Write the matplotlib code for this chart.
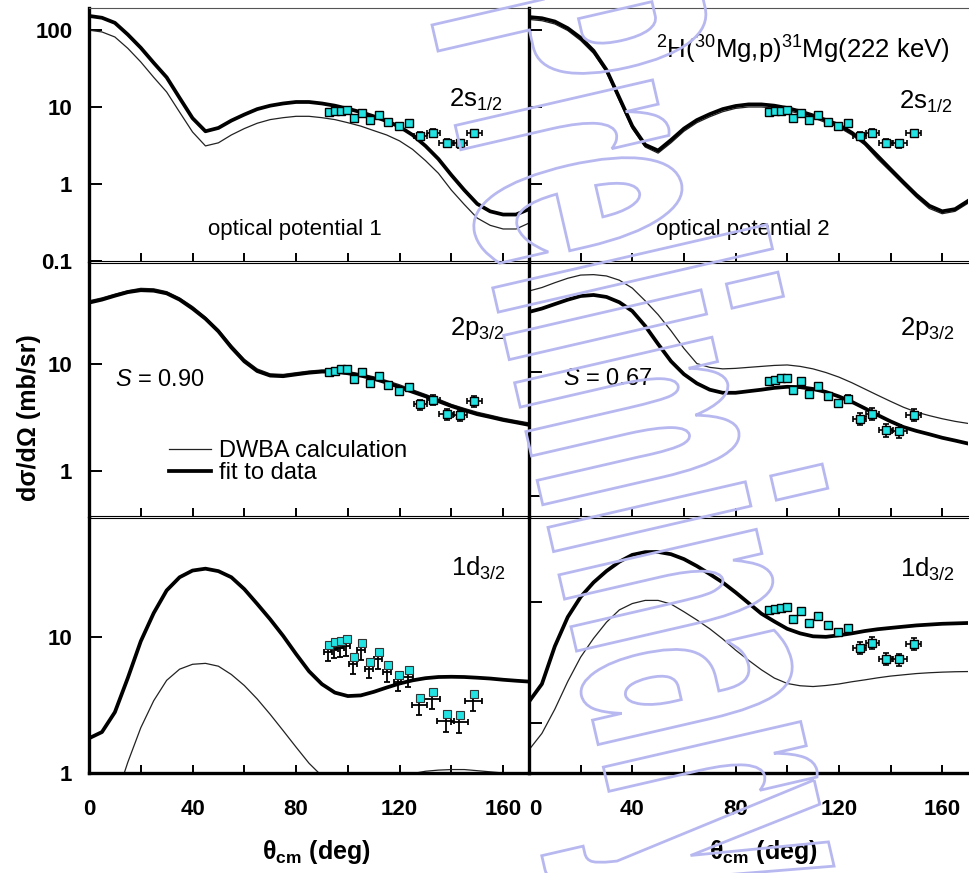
import matplotlib
matplotlib.use("Agg")
import matplotlib.pyplot as plt
from matplotlib.textpath import TextPath
from matplotlib.patches import PathPatch
from matplotlib.font_manager import FontProperties
from matplotlib.transforms import Affine2D, ScaledTranslation
from matplotlib.ticker import NullLocator

plt.rcParams["font.family"] = ["Liberation Sans", "DejaVu Sans"]
plt.rcParams["mathtext.fontset"] = "custom"
plt.rcParams["mathtext.rm"] = "Liberation Sans"
plt.rcParams["mathtext.it"] = "Liberation Sans:italic"
plt.rcParams["mathtext.bf"] = "Liberation Sans:bold"

W, H = 970, 873

# angle grid of the calculations (deg)
theta = [0, 5, 10, 15, 20, 25, 30, 35, 40, 45, 50, 55, 60, 65, 70, 75, 80, 85,
         90, 95, 100, 105, 110, 115, 120, 125, 130, 135, 140, 145, 150, 155,
         160, 165, 170]

# 2s1/2
s12_op1_dwba = [98, 93, 80, 57, 38, 24, 15.5, 8.5, 4.7, 3.1, 3.4, 4.3, 5.2, 6.1, 6.8, 7.2, 7.5, 7.5,
                7.2, 6.8, 6.2, 5.6, 4.9, 4.3, 3.6, 2.8, 2.0, 1.37, 0.83, 0.54, 0.36, 0.29,
                0.26, 0.26, 0.31]
s12_op1_fit = [150, 142, 122, 86, 58, 37, 24, 13, 7.1, 4.8, 5.3, 6.6, 7.9, 9.3, 10.3, 11.0, 11.5, 11.5,
               11.0, 10.3, 9.4, 8.5, 7.5, 6.5, 5.5, 4.3, 3.1, 2.1, 1.3, 0.83, 0.55, 0.44,
               0.40, 0.40, 0.47]
s12_op2_dwba = [135, 130, 118, 97, 72, 49, 28, 12, 5.2, 3.0, 2.5, 3.4, 4.8, 6.2, 7.4, 8.6, 9.5, 9.9,
                9.9, 9.6, 8.9, 8.1, 7.2, 6.2, 5.4, 4.3, 3.2, 2.1, 1.44, 0.98, 0.67, 0.48,
                0.41, 0.44, 0.56]
s12_op2_fit = [145, 140, 127, 104, 78, 53, 30, 13, 5.6, 3.2, 2.7, 3.7, 5.2, 6.7, 8.0, 9.3, 10.2, 10.7,
               10.7, 10.3, 9.6, 8.7, 7.7, 6.7, 5.8, 4.6, 3.4, 2.3, 1.55, 1.05, 0.72, 0.52,
               0.44, 0.47, 0.60]

# 2p3/2
p32_op1_dwba = [39, 41.5, 45, 48.5, 51, 50.5, 47.5, 41.5, 34.5, 27.5, 21, 15, 11.1, 9.0, 8.1, 8.0, 8.3, 8.6,
                8.8, 8.8, 8.5, 8.1, 7.6, 7.0, 6.4, 5.75, 5.2, 4.7, 4.2, 3.85, 3.55, 3.33,
                3.12, 2.96, 2.82]
p32_op1_fit = [37.5, 40, 43.5, 47, 49, 48.5, 45.8, 40, 33, 26.5, 20.2, 14.3, 10.6, 8.6, 7.8, 7.7, 8.0, 8.3,
               8.5, 8.5, 8.2, 7.8, 7.3, 6.7, 6.1, 5.5, 5.0, 4.5, 4.05, 3.7, 3.4, 3.2,
               3.0, 2.85, 2.7]
p32_op2_dwba = [45, 48, 52.5, 57, 60.5, 61, 59.5, 55, 47.5, 37.5, 29, 21.5, 15.5, 11.7, 10.9, 10.6, 10.7, 10.9,
                11.1, 11.3, 11.4, 11.1, 10.6, 9.9, 9.1, 8.2, 7.3, 6.5, 5.8, 5.2, 4.75, 4.45,
                4.2, 4.0, 3.85]
p32_op2_fit = [30.5, 32.5, 35.3, 38.3, 41, 41.8, 40.3, 36.5, 31, 23.5, 16.8, 12.2, 9.6, 8.1, 7.2, 6.8, 6.8, 7.0,
               7.2, 7.45, 7.6, 7.55, 7.3, 6.9, 6.35, 5.75, 5.1, 4.5, 4.0, 3.6, 3.35, 3.15,
               2.95, 2.8, 2.65]

# 1d3/2
d32_op1_dwba = [0.38, 0.45, 0.62, 1.2, 2.15, 3.4, 4.8, 5.8, 6.3, 6.4, 6.1, 5.3, 4.4, 3.5, 2.7, 2.05, 1.55, 1.18,
                0.95, 0.82, 0.76, 0.77, 0.81, 0.88, 0.94, 0.99, 1.03, 1.05, 1.06, 1.06, 1.04, 1.02,
                1.0, 0.98, 0.97]
d32_op1_fit = [1.8, 2.0, 2.8, 5.0, 9.3, 15, 22, 27.5, 30.8, 31.8, 30.5, 27.5, 22.5, 17.5, 13.5, 10.2, 7.5, 5.6,
               4.5, 3.9, 3.68, 3.72, 3.95, 4.25, 4.55, 4.8, 4.98, 5.08, 5.1, 5.08, 5.02, 4.95,
               4.85, 4.77, 4.7]
d32_op2_dwba = [0.6, 0.82, 1.3, 2.2, 3.5, 5.0, 6.8, 8.6, 9.7, 10.3, 10.3, 9.6, 8.3, 7.1, 6.0, 4.95, 4.0, 3.3,
                2.75, 2.35, 2.12, 2.03, 2.0, 2.04, 2.1, 2.19, 2.27, 2.36, 2.44, 2.5, 2.56, 2.6,
                2.63, 2.65, 2.66]
d32_op2_fit = [1.5, 2.1, 4.3, 7.5, 11, 14.5, 18, 21.5, 24.5, 25.8, 25.9, 24.8, 22.6, 19.8, 17, 14.5, 12, 9.8,
               8.0, 6.9, 6.0, 5.5, 5.2, 5.15, 5.3, 5.5, 5.75, 5.95, 6.1, 6.25, 6.4, 6.5,
               6.6, 6.65, 6.7]

# measured 2H(30Mg,p)31Mg(222 keV)
theta_exp = [92.8, 95.2, 97.5, 99.8, 102.4, 105.4, 108.6, 112.0, 115.6, 119.6, 123.7, 128.0,
             133.0, 138.2, 143.4, 148.9]
theta_exp_err = [0.8, 0.8, 0.8, 0.8, 0.8, 0.8, 0.8, 0.8, 1.0, 1.0, 1.2, 2.5, 2.5, 2.8, 2.8, 3.0]
sigma_exp = [8.5, 8.7, 8.9, 9.0, 7.2, 8.4, 6.7, 7.7, 6.4, 5.65, 6.1, 4.2, 4.6, 3.4, 3.35, 4.5]
sigma_exp_err = [0.45, 0.45, 0.45, 0.45, 0.4, 0.45, 0.4, 0.45, 0.4, 0.35, 0.4, 0.45, 0.5, 0.4, 0.4, 0.5]

# same points as they appear in the 1d3/2, potential 1 panel
sigma_d32_op1 = [8.75, 9.25, 9.4, 9.6, 7.1, 9.0, 6.6, 7.7, 6.2, 5.3, 5.75, 3.57, 3.95, 2.7, 2.65, 3.84]
sigma_d32_op1_err = [1.3, 1.4, 1.4, 1.4, 1.1, 1.4, 1.0, 1.2, 0.95, 0.8, 0.9, 0.55, 0.6, 0.45, 0.45, 0.6]
theta_d32_op1_err = [1.5, 1.5, 1.5, 1.5, 1.5, 1.5, 1.5, 1.5, 1.5, 1.5, 2.0, 3.0, 3.0, 3.3, 3.3, 3.3]

orbitals = ["2s$_{\\mathrm{1/2}}$", "2p$_{\\mathrm{3/2}}$", "1d$_{\\mathrm{3/2}}$"]
x_ticks = [0, 20, 40, 60, 80, 100, 120, 140, 160]
x_ticklabels = ["0", "", "40", "", "80", "", "120", "", "160"]

cyan = "#22e2e2"

fig = plt.figure(figsize=(W / 100, H / 100), dpi=100)


def rect(x0, y0, x1, y1):
    return [x0 / W, 1 - y1 / H, (x1 - x0) / W, (y1 - y0) / H]


def pt(x, y):
    return x / W, 1 - y / H


cols = [(89, 529), (529, 968)]
rows = [(8, 261), (263, 516), (518, 773)]

panels = [
    (0, 0, s12_op1_dwba, s12_op1_fit, (0.1, 190), [0.1, 1, 10, 100]),
    (0, 1, s12_op2_dwba, s12_op2_fit, (0.1, 190), [1, 10, 100]),
    (1, 0, p32_op1_dwba, p32_op1_fit, (0.38, 88), [1, 10]),
    (1, 1, p32_op2_dwba, p32_op2_fit, (0.69, 75.7), [1, 10]),
    (2, 0, d32_op1_dwba, d32_op1_fit, (1, 75), [1, 10]),
    (2, 1, d32_op2_dwba, d32_op2_fit, (0.386, 49.4), [1, 10]),
]

axes = {}
for r, c, dwba, fit, ylim, yticks in panels:
    ax = fig.add_axes(rect(cols[c][0], rows[r][0], cols[c][1], rows[r][1]))
    axes[(r, c)] = ax
    ax.set_yscale("log")
    ax.set_xlim(0, 170)
    ax.set_ylim(*ylim)
    l_dwba, = ax.plot(theta, dwba, color="#222222", lw=0.9, label="DWBA calculation", zorder=2)
    l_fit, = ax.plot(theta, fit, color="black", lw=2.7, label="fit to data", zorder=2,
                     solid_joinstyle="round")
    if (r, c) == (1, 0):
        handles = [l_dwba, l_fit]

    if (r, c) == (2, 0):
        # error bars drawn slightly below the markers, as in the original figure
        eb = ax.errorbar(theta_exp, sigma_d32_op1, xerr=theta_d32_op1_err, yerr=sigma_d32_op1_err,
                         fmt="none", ecolor="black", elinewidth=1.3, capsize=2.5, capthick=1.3, zorder=3)
        off = ax.transData + ScaledTranslation(-0.01, -0.07, fig.dpi_scale_trans)
        for art in list(eb[1]) + list(eb[2]):
            art.set_transform(off)
        ax.plot(theta_exp, sigma_d32_op1, "s", ms=5.5, mfc=cyan, mec="#333333", mew=0.8, zorder=4)
    else:
        ax.errorbar(theta_exp, sigma_exp, xerr=theta_exp_err, yerr=sigma_exp_err, fmt="none",
                    ecolor="black", elinewidth=1.2, capsize=2, capthick=1.2, zorder=3)
        ax.plot(theta_exp, sigma_exp, "s", ms=6, mfc=cyan, mec="black", mew=1.0, zorder=4)

    ax.set_yticks(yticks)
    ax.yaxis.set_minor_locator(NullLocator())
    if c == 0:
        ax.set_yticklabels([("%g" % v) for v in yticks])
    else:
        ax.set_yticklabels([])
    ax.set_xticks(x_ticks)
    ax.xaxis.set_minor_locator(NullLocator())
    if r == 2:
        ax.set_xticklabels(x_ticklabels)
    else:
        ax.set_xticklabels([])
    ax.tick_params(axis="y", direction="in", length=9, width=1.4, labelsize=16, pad=12)
    ax.tick_params(axis="x", direction="in", length=6, width=1.4, labelsize=16, pad=19)
    for lab in ax.get_xticklabels() + ax.get_yticklabels():
        lab.set_fontweight("bold")
    if r == 2 and c == 1:
        # the "0" of the right panel sits just right of the shared border
        ax.get_xticklabels()[0].set_horizontalalignment("left")

    ax.spines["right"].set_visible(False)
    ax.spines["left"].set_linewidth(2.4)
    ax.spines["top"].set_linewidth(0.8)
    ax.spines["bottom"].set_linewidth(2.4 if r == 2 else 0.8)
    if r == 0:
        ax.spines["top"].set_color("#555555")
    ax.patch.set_alpha(0)

# panel texts
fig.text(*pt(503, 100), orbitals[0], fontsize=18.5, ha="right", va="center")
fig.text(*pt(953, 102), orbitals[0], fontsize=18.5, ha="right", va="center")
fig.text(*pt(505, 328), orbitals[1], fontsize=18.5, ha="right", va="center")
fig.text(*pt(955, 329), orbitals[1], fontsize=18.5, ha="right", va="center")
fig.text(*pt(506, 568), orbitals[2], fontsize=18.5, ha="right", va="center")
fig.text(*pt(955, 569), orbitals[2], fontsize=18.5, ha="right", va="center")
fig.text(*pt(950, 50), "$^{\\mathrm{2}}$H($^{\\mathrm{30}}$Mg,p)$^{\\mathrm{31}}$Mg(222 keV)",
         fontsize=18.5, ha="right", va="center")
fig.text(*pt(295, 230), "optical potential 1", fontsize=16, ha="center", va="center")
fig.text(*pt(743, 230), "optical potential 2", fontsize=16, ha="center", va="center")
fig.text(*pt(115, 380), "$S$ = 0.90", fontsize=17, ha="left", va="center")
fig.text(*pt(563, 379), "$S$ = 0.67", fontsize=17, ha="left", va="center")

axes[(1, 0)].legend(handles=handles, loc="upper left", bbox_to_anchor=pt(169, 440),
                    bbox_transform=fig.transFigure, frameon=False, fontsize=17,
                    handlelength=1.8, handletextpad=0.3, labelspacing=0.0,
                    borderpad=0, borderaxespad=0)

fig.text(*pt(29, 418), "d\u03c3/d\u03a9 (mb/sr)", fontsize=18, fontweight="bold",
         rotation=90, ha="center", va="center")
for xc in (316, 763):
    fig.text(*pt(xc, 852), "\u03b8$_{\\mathbf{cm}}$ (deg)", fontsize=18, fontweight="bold",
             ha="center", va="center")

# "Preliminary" watermark (outlined text)
ov = fig.add_axes([0, 0, 1, 1], zorder=10)
ov.set_xlim(0, W)
ov.set_ylim(0, H)
ov.axis("off")
tp = TextPath((0, 0), "Preliminary", size=100, prop=FontProperties(family="DejaVu Sans", weight="bold"))
ext = tp.get_extents()
tr = (Affine2D().translate(-ext.x0, 0).scale(910 / ext.width, 270 / 72.9)
      .rotate_deg(-77).translate(432, H - 25))
ov.add_patch(PathPatch(tr.transform_path(tp), facecolor="none", edgecolor="#b8b8f0", lw=2.0))

fig.savefig("out.png", dpi=100)
